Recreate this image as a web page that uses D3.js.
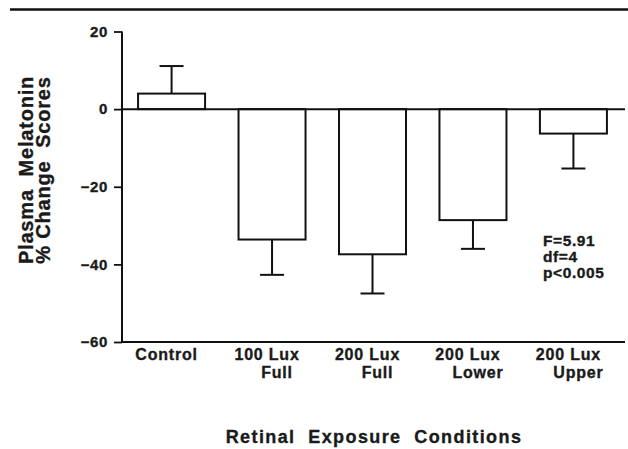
<!DOCTYPE html>
<html>
  <head>
    <meta charset="utf-8"/>
    <style>
    body {
      margin: 0;
      background: #fff;
    }
    text {
      font-family: "Liberation Sans", Arial, Helvetica, sans-serif;
      font-weight: bold;
      fill: #1a1a1a;
      stroke: #1a1a1a;
      stroke-width: 0.35px;
    }
    </style>
  </head>
  <body>
    <script src="https://d3js.org/d3.v7.min.js"></script>
    <script>
    var width = 628, height = 449;

    // data
    var conditions = ["Control", "100 Lux Full", "200 Lux Full", "200 Lux Lower", "200 Lux Upper"];
    var labelLine1 = ["Control", "100 Lux", "200 Lux", "200 Lux", "200 Lux"];
    var labelLine2 = ["", "Full", "Full", "Lower", "Upper"];
    var means = [4, -33.6, -37.4, -28.6, -6.3];
    var errors = [7.1, 9.1, 10.1, 7.4, 9.0];
    var yTicks = [20, 0, -20, -40, -60];
    var statLines = ["F=5.91", "df=4", "p<0.005"];

    var svg = d3.select("body").append("svg")
        .attr("width", width)
        .attr("height", height);

    var x = d3.scaleBand()
        .domain(conditions)
        .range([122, 623])
        .paddingInner(0.333)
        .paddingOuter(0.16);

    var y = d3.scaleLinear()
        .domain([-60, 20])
        .range([342, 31.5]);

    // rule across the top of the figure
    svg.append("line")
        .attr("x1", 10).attr("x2", width)
        .attr("y1", 9.5).attr("y2", 9.5)
        .attr("stroke", "#111")
        .attr("stroke-width", 2.5);

    // y axis
    var yAxis = svg.append("g")
        .attr("transform", "translate(122,0)")
        .call(d3.axisLeft(y).tickValues(yTicks).tickSize(8).tickPadding(6));
    yAxis.select(".domain").remove();
    yAxis.selectAll(".tick line").attr("stroke", "#111").attr("stroke-width", 1.8);
    yAxis.selectAll(".tick text")
        .attr("font-size", 15)
        .attr("letter-spacing", 0.6)
        .attr("fill", "#1a1a1a")
        .attr("font-family", null);

    svg.append("line")
        .attr("x1", 122).attr("x2", 122)
        .attr("y1", y(20)).attr("y2", y(-60))
        .attr("stroke", "#111").attr("stroke-width", 2);

    // bars
    var g = svg.append("g");
    g.selectAll(".bar")
        .data(conditions)
      .enter().append("rect")
        .attr("class", "bar")
        .attr("x", function(d) { return x(d); })
        .attr("width", x.bandwidth())
        .attr("y", function(d, i) { return y(Math.max(0, means[i])); })
        .attr("height", function(d, i) { return Math.abs(y(means[i]) - y(0)); })
        .attr("fill", "#fff")
        .attr("stroke", "#111")
        .attr("stroke-width", 2);

    // error bars point away from zero
    function errEnd(i) {
      return means[i] >= 0 ? means[i] + errors[i] : means[i] - errors[i];
    }
    g.selectAll(".err")
        .data(conditions)
      .enter().append("line")
        .attr("class", "err")
        .attr("x1", function(d) { return x(d) + x.bandwidth() / 2; })
        .attr("x2", function(d) { return x(d) + x.bandwidth() / 2; })
        .attr("y1", function(d, i) { return y(means[i]); })
        .attr("y2", function(d, i) { return y(errEnd(i)); })
        .attr("stroke", "#111").attr("stroke-width", 2);
    g.selectAll(".cap")
        .data(conditions)
      .enter().append("line")
        .attr("class", "cap")
        .attr("x1", function(d) { return x(d) + x.bandwidth() / 2 - 12; })
        .attr("x2", function(d) { return x(d) + x.bandwidth() / 2 + 12; })
        .attr("y1", function(d, i) { return y(errEnd(i)); })
        .attr("y2", function(d, i) { return y(errEnd(i)); })
        .attr("stroke", "#111").attr("stroke-width", 2);

    // zero line and bottom axis
    svg.append("line")
        .attr("x1", 122).attr("x2", 625)
        .attr("y1", y(0)).attr("y2", y(0))
        .attr("stroke", "#111").attr("stroke-width", 2);
    svg.append("line")
        .attr("x1", 122).attr("x2", 625)
        .attr("y1", y(-60)).attr("y2", y(-60))
        .attr("stroke", "#111").attr("stroke-width", 2);

    // category labels
    var lab = svg.selectAll(".xlab")
        .data(conditions)
      .enter().append("text")
        .attr("class", "xlab")
        .attr("text-anchor", "middle")
        .attr("font-size", 16)
        .attr("letter-spacing", 0.8);
    lab.append("tspan")
        .attr("x", function(d) { return x(d) + x.bandwidth() / 2 - 5; })
        .attr("y", 360)
        .text(function(d, i) { return labelLine1[i]; });
    lab.append("tspan")
        .attr("x", function(d) { return x(d) + x.bandwidth() / 2 + 5; })
        .attr("y", 378)
        .text(function(d, i) { return labelLine2[i]; });

    // axis titles
    svg.append("text")
        .attr("transform", "translate(33,170) rotate(-90)")
        .attr("text-anchor", "middle")
        .attr("font-size", 20)
        .attr("letter-spacing", 0.8)
        .attr("xml:space", "preserve")
        .text("Plasma  Melatonin");
    svg.append("text")
        .attr("transform", "translate(50,170) rotate(-90)")
        .attr("text-anchor", "middle")
        .attr("font-size", 20)
        .attr("letter-spacing", 0.8)
        .attr("xml:space", "preserve")
        .text("% Change  Scores");

    svg.append("text")
        .attr("x", 374)
        .attr("y", 443)
        .attr("text-anchor", "middle")
        .attr("font-size", 18)
        .attr("letter-spacing", 1.4)
        .attr("xml:space", "preserve")
        .text("Retinal  Exposure  Conditions");

    // statistics note
    svg.append("text")
        .selectAll("tspan")
        .data(statLines)
      .enter().append("tspan")
        .attr("x", 543)
        .attr("y", function(d, i) { return 246 + i * 16; })
        .attr("font-size", 15.5)
        .attr("letter-spacing", 0.6)
        .text(function(d) { return d; });
    </script>
  </body>
</html>
